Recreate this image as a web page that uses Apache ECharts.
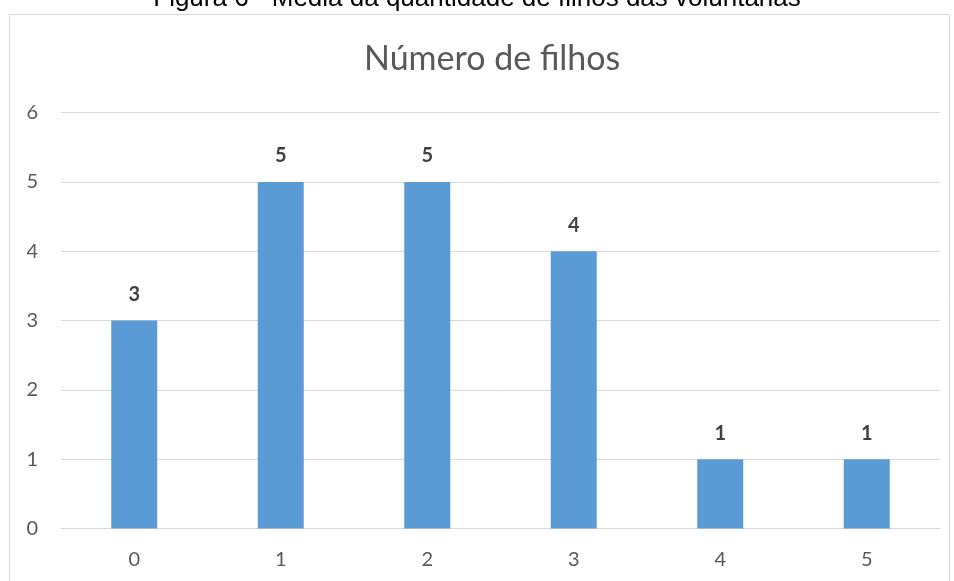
<!DOCTYPE html>
<html>
<head>
<meta charset="utf-8">
<script src="https://cdn.jsdelivr.net/npm/echarts@6/dist/echarts.min.js"></script>
<style>
  html, body { margin: 0; padding: 0; background: #fff; }
  #chart { width: 954px; height: 581px; }
</style>
</head>
<body>
<div id="chart"></div>
<script>
// Number of children per volunteer
const categories = ['0', '1', '2', '3', '4', '5'];
const counts = [3, 5, 5, 4, 1, 1];
const yTicks = [0, 1, 2, 3, 4, 5, 6];

const chart = echarts.init(document.getElementById('chart'), null, { renderer: 'canvas' });

chart.setOption({
  animation: false,
  backgroundColor: '#ffffff',
  title: {
    text: 'Número de filhos',
    left: 359,
    top: 37,
    textStyle: { fontFamily: 'Lato', fontWeight: 'normal', fontSize: 34, color: '#595959' }
  },
  graphic: [
    {
      type: 'text',
      left: 'center',
      top: -14,
      style: {
        text: 'Figura 6 - Média da quantidade de filhos das voluntárias',
        font: '26px "Liberation Sans"',
        fill: '#000000'
      }
    },
    {
      type: 'rect',
      shape: { x: 9.5, y: 14.5, width: 940, height: 600 },
      style: { fill: 'none', stroke: '#d9d9d9', lineWidth: 1 }
    }
  ],
  grid: { left: 61, right: 14, top: 112.7, bottom: 581 - 528.5 },
  xAxis: {
    type: 'category',
    data: categories,
    axisLine: { lineStyle: { color: '#d9d9d9', width: 1 } },
    axisTick: { show: false },
    axisLabel: { color: '#595959', fontSize: 20, fontFamily: 'Lato', margin: 21 }
  },
  yAxis: {
    type: 'value',
    min: yTicks[0],
    max: yTicks[yTicks.length - 1],
    interval: 1,
    axisLine: { show: false },
    axisTick: { show: false },
    splitLine: { lineStyle: { color: '#d9d9d9', width: 1 } },
    axisLabel: { color: '#595959', fontSize: 20, fontFamily: 'Lato', margin: 23 }
  },
  series: [{
    type: 'bar',
    data: counts,
    barWidth: '31.4%',
    itemStyle: { color: '#5b9bd5' },
    label: {
      show: true,
      position: 'top',
      distance: 16,
      color: '#404040',
      fontSize: 20,
      fontWeight: 'bold',
      fontFamily: 'Lato'
    }
  }]
});
</script>
</body>
</html>
